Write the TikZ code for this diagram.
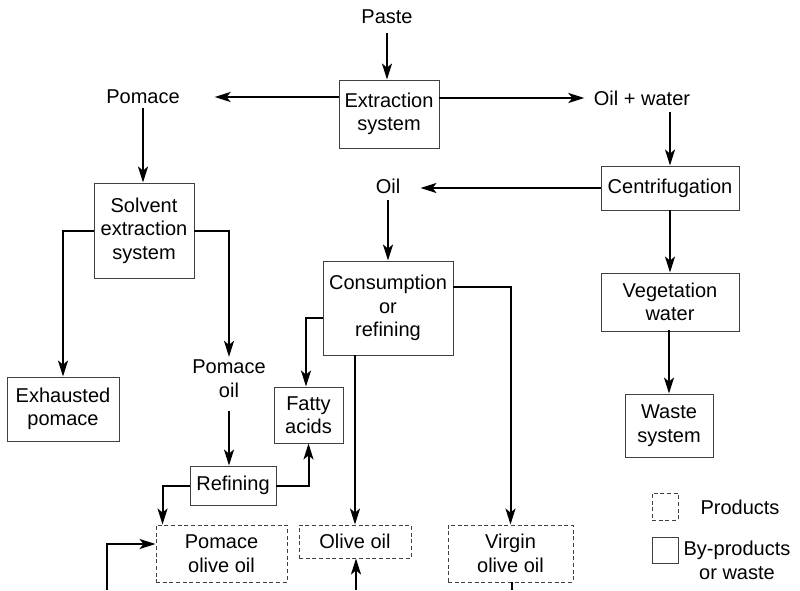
\documentclass[tikz,border=0pt]{standalone}
\usepackage{fontspec}
\setmainfont{Liberation Sans}
\usetikzlibrary{arrows.meta,calc}
\def\px{0.75pt}
\tikzset{
  lbl/.style={inner sep=0pt, align=center, font=\fontsize{15pt}{17.6pt}\selectfont},
  box/.style={lbl, draw=black!75, line width=0.7pt},
  prod/.style={box, dash pattern=on 3pt off 2pt},
  arr/.style={line width=1.5pt, -{Stealth[length=12pt,width=7.5pt,inset=3pt]}},
  ln/.style={line width=1.5pt},
}
\begin{document}
\begin{tikzpicture}[x=0.75pt,y=-0.75pt]
\useasboundingbox (0,0) rectangle (800,590);
% text labels
\node[lbl] (paste) at (387,17) {Paste};
\node[lbl] (pomace) at (143,97) {Pomace};
\node[lbl] (oilw) at (642,98) {Oil + water};
\node[lbl] (oil) at (388,186) {Oil};
\node[lbl] (pomoil) at (229,378.5) {Pomace\\oil};
% boxes
\node[box, minimum width=100*\px, minimum height=68*\px] (ext) at (389,114) {Extraction\\system};
\node[box, minimum width=100*\px, minimum height=95*\px] (solv) at (144,230.5) {Solvent\\extraction\\system};
\node[box, minimum width=112*\px, minimum height=64*\px] (exh) at (63,409) {Exhausted\\pomace};
\node[box, minimum width=86*\px, minimum height=39*\px] (ref) at (233,485.5) {Refining};
\node[box, minimum width=69*\px, minimum height=56*\px] (fatty) at (308.5,415) {Fatty\\acids};
\node[box, minimum width=130*\px, minimum height=94*\px] (cons) at (388,308) {Consumption\\or\\refining};
\node[box, minimum width=138*\px, minimum height=44*\px] (centr) at (670,188) {Centrifugation};
\node[box, minimum width=138*\px, minimum height=58*\px] (veg) at (670,302) {Vegetation\\water};
\node[box, minimum width=88*\px, minimum height=63*\px] (waste) at (669,425.5) {Waste\\system};
% products
\node[prod, minimum width=131*\px, minimum height=57*\px] (pomolive) at (221.5,553.5) {Pomace\\olive oil};
\node[prod, minimum width=112*\px, minimum height=33*\px] (olive) at (355,541.5) {Olive oil};
\node[prod, minimum width=125*\px, minimum height=57*\px] (virgin) at (510.5,553.5) {Virgin\\olive oil};
% legend
\node[prod, minimum width=26*\px, minimum height=27*\px] (lprod) at (665,506.5) {};
\node[box, minimum width=26*\px, minimum height=26*\px] (lby) at (665,550) {};
\node[lbl] (tprod) at (740,507) {Products};
\node[lbl] (tby) at (737,560.5) {By-products\\or waste};
% free ends at the lower edge
\coordinate (b1) at (107,590);
\coordinate (b2) at (356,590);
\coordinate (b3) at (512,590);
% connectors
\draw[arr, shorten <=6.5pt] (paste.south) -- (paste.south |- ext.north);
\draw[arr, shorten >=26pt] (ext.west |- pomace) -- (pomace.east);
\draw[arr, shorten >=7pt] (ext.east |- oilw) -- (oilw.west);
\draw[arr, shorten <=3pt] (pomace.south) -- (pomace.south |- solv.north);
\draw[arr] (solv.west) -| (exh.north);
\draw[arr, shorten >=2pt] (solv.east) -| (pomoil.north);
\draw[arr, shorten <=10pt] (pomoil.south) -- (pomoil.south |- ref.north);
\draw[arr] (ref.west) -| ($(pomolive.north west)+(7,0)$);
\draw[arr] (ref.east) -| (fatty.south);
\draw[arr] ($(cons.west)+(0,10)$) -| ($(fatty.north)+(-2.5,0)$);
\draw[arr] (olive.north |- cons.south) -- (olive.north);
\draw[arr] ($(cons.east)+(0,-21)$) -| (virgin.north);
\draw[arr, shorten >=15pt] (centr.west) -- (centr.west -| oil.east);
\draw[arr, shorten <=5pt] (oil.south) -- (oil.south |- cons.north);
\draw[arr, shorten <=5pt] (centr.north |- oilw.south) -- (centr.north);
\draw[arr] (centr.south) -- (veg.north);
\draw[arr] (veg.south) -- (veg.south -| waste.north) -- (waste.north);
\draw[arr] (b1) |- ($(pomolive.west)+(0,-9.5)$);
\draw[arr] (b2) -- (b2 |- olive.south);
\draw[ln] (virgin.south -| b3) -- (b3);
\end{tikzpicture}
\end{document}
